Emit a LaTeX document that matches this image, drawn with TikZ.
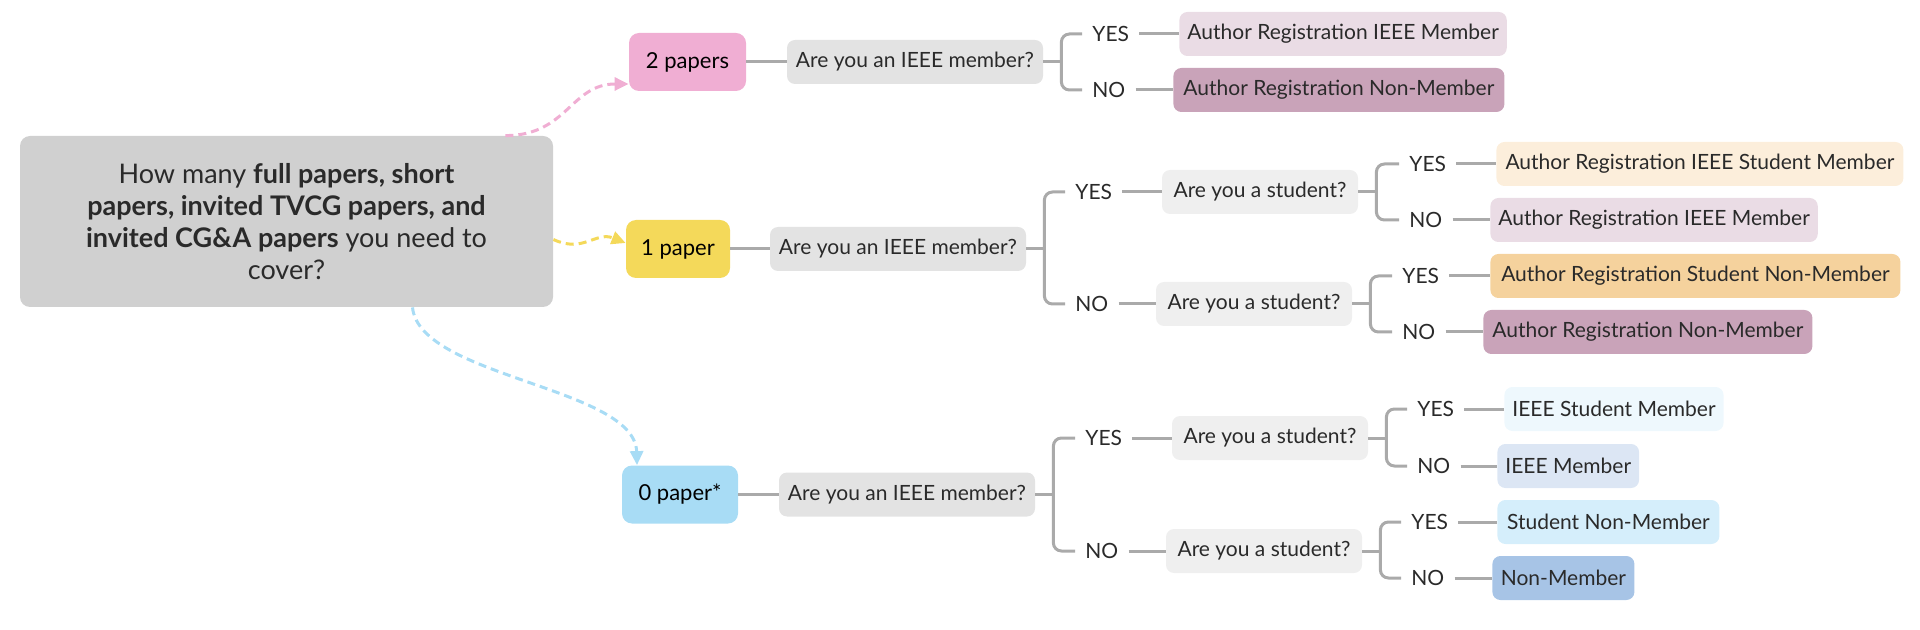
\documentclass[tikz,border=0pt]{standalone}
\usepackage{fontspec}
\setmainfont{Lato}
\usetikzlibrary{arrows.meta}

% Colours
\definecolor{txt}{HTML}{2A2A2A}
\definecolor{rootgrey}{HTML}{D0D0D0}
\definecolor{askgrey}{HTML}{E3E3E3}
\definecolor{stugrey}{HTML}{EFEFEF}
\definecolor{linegrey}{HTML}{AAAAAA}
\definecolor{pinkfill}{HTML}{F0AED3}
\definecolor{yellowfill}{HTML}{F4D95A}
\definecolor{bluefill}{HTML}{A8DCF5}
\definecolor{mauvelight}{HTML}{EADCE5}
\definecolor{mauvedark}{HTML}{C9A3B9}
\definecolor{peachlight}{HTML}{FCEEDB}
\definecolor{peachdark}{HTML}{F5D29D}
\definecolor{skylight}{HTML}{EEF8FD}
\definecolor{steellight}{HTML}{DCE6F4}
\definecolor{skymid}{HTML}{D5EEFB}
\definecolor{steeldark}{HTML}{A7C4E6}

\begin{document}
\begin{tikzpicture}[x=0.5pt,y=-0.5pt,
  box/.style={rounded corners=4pt, minimum height=22pt, inner xsep=4pt, inner ysep=0pt,
    text=txt, font=\fontsize{10.5}{12}\selectfont},
  root/.style={box, fill=rootgrey, rounded corners=5pt, minimum width=266.5pt,
    minimum height=85.5pt, align=center, font=\fontsize{13.5}{16}\selectfont},
  paper/.style={box, rounded corners=5pt, minimum height=29pt, text=black,
    font=\fontsize{11}{13}\selectfont},
  ask/.style={box, fill=askgrey, minimum width=128pt},
  student/.style={box, fill=stugrey, minimum width=98pt},
  leaf/.style={box, anchor=west},
  ans/.style={anchor=west, inner xsep=5pt, inner ysep=1pt, text=txt,
    font=\fontsize{10.5}{12}\selectfont},
  branch/.style={draw=linegrey, line width=1.5pt, rounded corners=4pt},
  link/.style={line width=1.5pt, dash pattern=on 4pt off 2.5pt,
    -{Triangle[length=7pt,width=6.5pt]}}
]
\useasboundingbox (0,0) rectangle (1920,630);

% Question
\node[root] (cover) at (286.5,221.5) {How many \textbf{full papers, short}\\
  \textbf{papers, invited TVCG papers, and}\\
  \textbf{invited CG\&A papers} you need to\\ cover?};

% Paper counts
\node[paper, fill=pinkfill, minimum width=58.5pt] (two) at (687.5,62) {2 papers};
\node[paper, fill=yellowfill, minimum width=52pt] (one) at (678,249) {1 paper};
\node[paper, fill=bluefill, minimum width=58pt] (zero) at (680,494.5) {0 paper*};

\draw[link, pinkfill] ([xshift=-24pt]cover.north east)
  .. controls +(62,0) and +(-58,0) .. ([yshift=-11pt]two.west);
\draw[link, yellowfill] ([yshift=-9pt]cover.east)
  .. controls +(30,14) and +(-30,-12) .. ([yshift=3pt]one.west);
\draw[link, bluefill] ([xshift=63pt]cover.south)
  .. controls +(7,70) and +(-2,-78) .. ([xshift=-21.5pt]zero.north);

% IEEE member?
\node[ask] (ieeeA) at (915,62) {Are you an IEEE member?};
\node[ask] (ieeeB) at (898,249) {Are you an IEEE member?};
\node[ask] (ieeeC) at (907,494.5) {Are you an IEEE member?};
\draw[branch] (two) -- (ieeeA);
\draw[branch] (one) -- (ieeeB);
\draw[branch] (zero) -- (ieeeC);

% Student?
\node[student] (stuBY) at (1260,192) {Are you a student?};
\node[student] (stuBN) at (1254,304) {Are you a student?};
\node[student] (stuCY) at (1270,438) {Are you a student?};
\node[student] (stuCN) at (1264,551) {Are you a student?};

% Yes / no labels
\node[ans] (yA) at (1082,34) {YES};
\node[ans] (nA) at (1082,90) {NO};
\node[ans] (yB) at (1065,192) {YES};
\node[ans] (nB) at (1065,304) {NO};
\node[ans] (yBY) at (1399,164) {YES};
\node[ans] (nBY) at (1399,220) {NO};
\node[ans] (yBN) at (1392,276) {YES};
\node[ans] (nBN) at (1392,332) {NO};
\node[ans] (yC) at (1075,438) {YES};
\node[ans] (nC) at (1075,551) {NO};
\node[ans] (yCY) at (1407,409) {YES};
\node[ans] (nCY) at (1407,466) {NO};
\node[ans] (yCN) at (1401,522) {YES};
\node[ans] (nCN) at (1401,578) {NO};

% Forks
\coordinate (fA) at ([xshift=9pt]ieeeA.east);
\coordinate (fB) at ([xshift=9pt]ieeeB.east);
\coordinate (fC) at ([xshift=9pt]ieeeC.east);
\coordinate (fBY) at ([xshift=9pt]stuBY.east);
\coordinate (fBN) at ([xshift=9pt]stuBN.east);
\coordinate (fCY) at ([xshift=9pt]stuCY.east);
\coordinate (fCN) at ([xshift=9pt]stuCN.east);
\foreach \q/\f/\y/\n in {ieeeA/fA/yA/nA, ieeeB/fB/yB/nB, ieeeC/fC/yC/nC,
    stuBY/fBY/yBY/nBY, stuBN/fBN/yBN/nBN, stuCY/fCY/yCY/nCY, stuCN/fCN/yCN/nCN}{
  \draw[branch] (\q.east) -- (\f);
  \draw[branch] (\y.west) -| (\f) |- (\n.west);
}

% Registrations
\node[leaf, fill=mauvelight, minimum width=163.5pt] (leafA1) at (1179,34) {Author Registration IEEE Member};
\node[leaf, fill=mauvedark, minimum width=165.5pt] (leafA2) at (1173,90) {Author Registration Non-Member};
\node[leaf, fill=peachlight, minimum width=203.5pt] (leafB1) at (1496,164) {Author Registration IEEE Student Member};
\node[leaf, fill=mauvelight, minimum width=162.5pt] (leafB2) at (1490,220) {Author Registration IEEE Member};
\node[leaf, fill=peachdark, minimum width=205pt] (leafB3) at (1490,276) {Author Registration Student Non-Member};
\node[leaf, fill=mauvedark, minimum width=164.5pt] (leafB4) at (1483,332) {Author Registration Non-Member};
\node[leaf, fill=skylight, minimum width=109pt] (leafC1) at (1504,409) {IEEE Student Member};
\node[leaf, fill=steellight, minimum width=70pt] (leafC2) at (1497,466) {IEEE Member};
\node[leaf, fill=skymid, minimum width=111pt] (leafC3) at (1497,522) {Student Non-Member};
\node[leaf, fill=steeldark, minimum width=71pt] (leafC4) at (1492,578) {Non-Member};

\foreach \a/\b in {yA/leafA1, nA/leafA2, yB/stuBY, nB/stuBN, yC/stuCY, nC/stuCN,
    yBY/leafB1, nBY/leafB2, yBN/leafB3, nBN/leafB4,
    yCY/leafC1, nCY/leafC2, yCN/leafC3, nCN/leafC4}
  \draw[branch] (\a.east) -- (\b.west);
\end{tikzpicture}
\end{document}
